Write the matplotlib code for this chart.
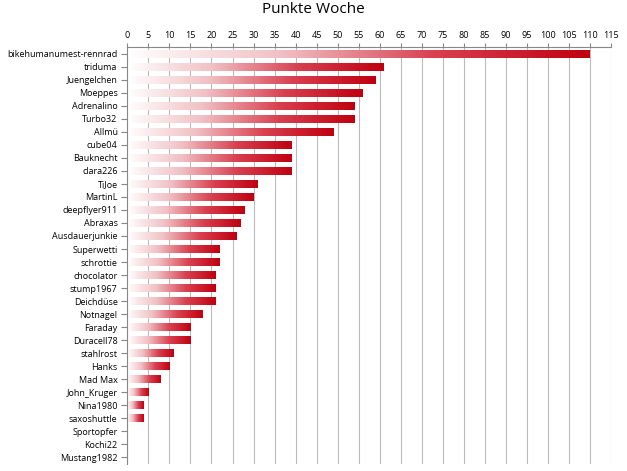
import matplotlib.pyplot as plt
import numpy as np
from matplotlib.colors import LinearSegmentedColormap

names = ["bikehumanumest-rennrad", "triduma", "Juengelchen", "Moeppes", "Adrenalino",
         "Turbo32", "Allmü", "cube04", "Bauknecht", "clara226", "TiJoe", "MartinL",
         "deepflyer911", "Abraxas", "Ausdauerjunkie", "Superwetti", "schrottie",
         "chocolator", "stump1967", "Deichdüse", "Notnagel", "Faraday", "Duracell78",
         "stahlrost", "Hanks", "Mad Max", "John_Kruger", "Nina1980", "saxoshuttle",
         "Sportopfer", "Kochi22", "Mustang1982"]
points = [110, 61, 59, 56, 54, 54, 49, 39, 39, 39, 31, 30, 28, 27, 26, 22, 22,
          21, 21, 21, 18, 15, 15, 11, 10, 8, 5, 4, 4, 0, 0, 0]

plt.rcParams["font.family"] = "Open Sans"
cmap = LinearSegmentedColormap.from_list("wr", ["#ffffff", "#f0c0c4", "#d84050", "#c00010"])

fig = plt.figure(figsize=(6.27, 4.71), dpi=100)
ax = fig.add_axes([0.203, 0.015, 0.772, 0.885])
n = len(names)
grad = np.linspace(0, 1, 256).reshape(1, -1)
h = 0.3
for i, v in enumerate(points):
    if v <= 0:
        continue
    ax.imshow(grad, cmap=cmap, aspect="auto", extent=[0, v, i + h, i - h],
              interpolation="bilinear", zorder=2)

ax.set_xlim(0, 115)
ax.set_ylim(n - 0.5, -0.5)
ax.set_xticks(range(0, 116, 5))
ax.xaxis.tick_top()
ax.tick_params(axis="x", labelsize=6.5, length=3, color="#888888", pad=2)
ax.set_yticks(range(n))
ax.set_yticklabels(names, fontsize=6.5)
ax.tick_params(axis="y", length=4, color="#888888", pad=3)
ax.grid(axis="x", color="#bbbbbb", lw=0.8, zorder=0)
for s in ["right", "bottom"]:
    ax.spines[s].set_visible(False)
for s in ["left", "top"]:
    ax.spines[s].set_color("#888888")
fig.suptitle("Punkte Woche", fontsize=11, y=0.995)
fig.savefig("out.png", dpi=100)
